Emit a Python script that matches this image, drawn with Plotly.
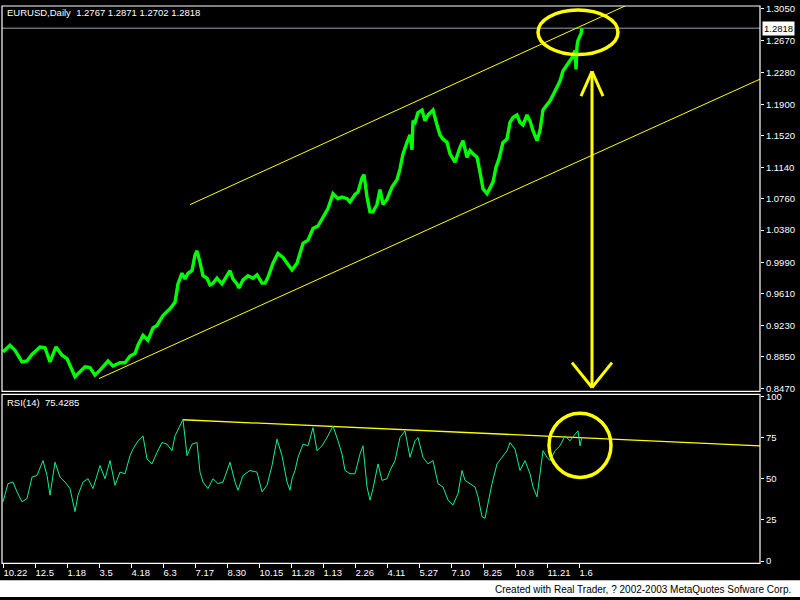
import plotly.graph_objects as go

# ---------------- data ----------------
symbol_header = "EURUSD,Daily  1.2767 1.2871 1.2702 1.2818"
last_close = 1.2818
rsi_header = "RSI(14)  75.4285"
footer_text = "Created with Real Trader, ? 2002-2003 MetaQuotes Sofware Corp."

# bar index (trading days from 2001-10-22) and approximate price
price_bar = [0, 7, 12, 19, 24, 29, 37, 42, 47, 53, 59, 64, 72, 77, 82, 87, 92, 97, 102, 105,
             110, 117, 122, 127, 132, 135, 140, 145, 150, 154, 160, 167, 172, 175, 179, 182, 185,
             189, 192, 194, 197, 200, 204, 207, 210, 214, 219, 222, 227, 230, 234, 236, 240, 245,
             250, 254, 259, 262, 265, 270, 275, 280, 284, 289, 294, 297, 300, 305, 310, 315, 320,
             325, 330, 335, 339, 344, 347, 352, 355, 359, 361, 364, 367, 370, 374, 377, 380, 384,
             389, 394, 397, 400, 404, 407, 409, 410, 412, 415, 419, 422, 425, 430, 434, 437, 440,
             444, 447, 452, 457, 460, 464, 467, 470, 474, 477, 480, 484, 487, 490, 493, 496, 500,
             504, 507, 510, 514, 517, 520, 524, 527, 530, 534, 537, 540, 544, 547, 550, 554, 557,
             560, 564, 567, 570, 572, 573, 574, 575, 578, 579]
price_close = [0.891, 0.899, 0.893, 0.879, 0.880, 0.888, 0.897, 0.896, 0.879, 0.897, 0.887, 0.883,
               0.861, 0.867, 0.873, 0.872, 0.863, 0.869, 0.875, 0.880, 0.874, 0.878, 0.878, 0.886,
               0.889, 0.899, 0.911, 0.905, 0.920, 0.923, 0.935, 0.943, 0.951, 0.973, 0.986, 0.979,
               0.986, 0.989, 1.008, 1.013, 0.999, 0.983, 0.980, 0.972, 0.974, 0.980, 0.973, 0.979,
               0.989, 0.979, 0.973, 0.968, 0.978, 0.983, 0.980, 0.984, 0.974, 0.974, 0.981, 0.998,
               1.010, 1.005, 0.998, 0.990, 0.998, 1.010, 1.022, 1.026, 1.040, 1.043, 1.053, 1.064,
               1.082, 1.076, 1.078, 1.076, 1.072, 1.081, 1.084, 1.101, 1.105, 1.078, 1.060, 1.060,
               1.069, 1.087, 1.069, 1.075, 1.090, 1.099, 1.112, 1.130, 1.144, 1.153, 1.135, 1.170,
               1.168, 1.180, 1.183, 1.170, 1.177, 1.183, 1.165, 1.153, 1.148, 1.144, 1.130, 1.120,
               1.138, 1.146, 1.126, 1.134, 1.130, 1.126, 1.108, 1.088, 1.082, 1.090, 1.096, 1.114,
               1.124, 1.144, 1.148, 1.168, 1.174, 1.177, 1.168, 1.165, 1.177, 1.170, 1.158, 1.146,
               1.158, 1.183, 1.189, 1.194, 1.201, 1.210, 1.218, 1.230, 1.237, 1.242, 1.248, 1.255,
               1.232, 1.260, 1.267, 1.275, 1.2818]

rsi_bar = [0, 5, 10, 14, 19, 24, 29, 34, 40, 44, 47, 52, 57, 62, 67, 72, 75, 80, 85, 90, 97, 102,
           107, 112, 117, 122, 127, 130, 135, 140, 144, 149, 154, 159, 164, 169, 172, 177, 180, 184,
           189, 194, 197, 200, 205, 210, 215, 220, 227, 232, 235, 240, 247, 254, 259, 264, 269, 274,
           279, 284, 287, 289, 292, 295, 300, 305, 310, 314, 319, 324, 330, 335, 339, 342, 347, 352,
           357, 360, 364, 367, 370, 375, 379, 384, 387, 392, 397, 402, 407, 412, 415, 420, 425, 430,
           435, 440, 445, 450, 455, 459, 462, 467, 472, 475, 479, 482, 485, 489, 494, 499, 504, 507,
           512, 517, 522, 527, 530, 534, 537, 540, 544, 547, 552, 557, 562, 567, 572, 575, 577, 579]
rsi_value = [36, 47, 48, 42, 36, 38, 51, 52, 61, 52, 40, 60, 51, 48, 44, 30, 40, 48, 50, 44, 58, 50,
             61, 46, 54, 53, 64, 68, 73, 76, 62, 59, 66, 72, 71, 67, 76, 82, 86, 64, 71, 72, 54, 48,
             44, 50, 47, 48, 60, 48, 43, 52, 55, 54, 42, 46, 58, 74, 64, 48, 43, 50, 55, 63, 71, 70,
             81, 67, 70, 75, 82, 73, 65, 55, 53, 53, 65, 70, 45, 37, 44, 59, 49, 50, 55, 61, 75, 79,
             63, 73, 75, 63, 59, 61, 47, 45, 37, 34, 41, 55, 49, 47, 45, 39, 27, 26, 35, 47, 59, 63,
             67, 72, 68, 55, 61, 53, 45, 39, 55, 67, 63, 61, 67, 70, 76, 73, 77, 79, 70, 75.4285]

tick_bar = [0, 32, 64, 96, 128, 160, 192, 224, 256, 288, 320, 352, 384, 416, 448, 480, 512, 544, 576]
tick_label = ["10.22", "12.5", "1.18", "3.5", "4.18", "6.3", "7.17", "8.30", "10.15", "11.28",
              "1.13", "2.26", "4.11", "5.27", "7.10", "8.25", "10.8", "11.21", "1.6"]

price_tick_val = [1.3050, 1.2670, 1.2280, 1.1900, 1.1520, 1.1140, 1.0760, 1.0380, 0.9990,
                  0.9610, 0.9230, 0.8850, 0.8470]
price_tick_text = ["1.3050", "1.2670", "1.2280", "1.1900", "1.1520", "1.1140", "1.0760",
                   "1.0380", "0.9990", "0.9610", "0.9230", "0.8850", "0.8470"]
rsi_tick_val = [0, 25, 50, 75, 100]

# hand-drawn trend lines (bar index, value)
upper_channel_bar = [187, 622]
upper_channel_price = [1.0688, 1.3086]
lower_channel_bar = [96, 757]
lower_channel_price = [0.8588, 1.2203]
rsi_trend_bar = [180, 757]
rsi_trend_value = [85.8, 70.0]

# highlight ellipses / arrow (bar index, value)
price_circle_bar = [535, 615]
price_circle_price = [1.2501, 1.3038]
rsi_circle_bar = [546, 608]
rsi_circle_value = [50.8, 89.8]
arrow_bar = 589
arrow_top_price = 1.2298
arrow_bottom_price = 0.8480

# ---------------- figure ----------------
W, H = 800, 600
X_RANGE = [-1, 757]
Y_RANGE = [0.8433, 1.3086]
R_RANGE = [-1.4, 101.2]
X_DOM = [2 / W, 760 / W]
Y_DOM = [1 - 392 / H, 1 - 2 / H]
R_DOM = [1 - 566 / H, 1 - 395 / H]

YELLOW = "#ffff00"
WHITE = "#ffffff"
FONT = "Liberation Sans"

fig = go.Figure()

fig.add_trace(go.Scatter(x=upper_channel_bar, y=upper_channel_price, mode="lines",
                         line=dict(color=YELLOW, width=1), xaxis="x", yaxis="y",
                         hoverinfo="skip", showlegend=False))
fig.add_trace(go.Scatter(x=lower_channel_bar, y=lower_channel_price, mode="lines",
                         line=dict(color=YELLOW, width=1), xaxis="x", yaxis="y",
                         hoverinfo="skip", showlegend=False))
fig.add_trace(go.Scatter(x=price_bar, y=price_close, mode="lines",
                         line=dict(color="#00ff00", width=3.4), xaxis="x", yaxis="y",
                         showlegend=False))
fig.add_trace(go.Scatter(x=rsi_trend_bar, y=rsi_trend_value, mode="lines",
                         line=dict(color=YELLOW, width=1.3), xaxis="x", yaxis="y2",
                         hoverinfo="skip", showlegend=False))
fig.add_trace(go.Scatter(x=rsi_bar, y=rsi_value, mode="lines",
                         line=dict(color="#10f088", width=1), xaxis="x", yaxis="y2",
                         showlegend=False))

shapes = []
# panel frames
for yref in ("y domain", "y2 domain"):
    shapes.append(dict(type="rect", xref="x domain", yref=yref, x0=0, x1=1, y0=0, y1=1,
                       line=dict(color=WHITE, width=1.2), layer="above"))
# last price level
shapes.append(dict(type="line", xref="x domain", yref="y", x0=0, x1=1,
                   y0=last_close, y1=last_close, line=dict(color="#98a4aa", width=1),
                   layer="below"))
# ellipses
shapes.append(dict(type="circle", xref="x", yref="y",
                   x0=price_circle_bar[0], x1=price_circle_bar[1],
                   y0=price_circle_price[0], y1=price_circle_price[1],
                   line=dict(color=YELLOW, width=3.5)))
shapes.append(dict(type="circle", xref="x", yref="y2",
                   x0=rsi_circle_bar[0], x1=rsi_circle_bar[1],
                   y0=rsi_circle_value[0], y1=rsi_circle_value[1],
                   line=dict(color=YELLOW, width=3.5)))
# double-headed arrow
head_dy = 0.030
shapes.append(dict(type="line", xref="x", yref="y", x0=arrow_bar, x1=arrow_bar,
                   y0=arrow_top_price, y1=arrow_bottom_price,
                   line=dict(color=YELLOW, width=3)))
for sx in (-1, 1):
    shapes.append(dict(type="line", xref="x", yref="y", x0=arrow_bar, y0=arrow_top_price,
                       x1=arrow_bar + sx * 11, y1=arrow_top_price - head_dy,
                       line=dict(color=YELLOW, width=3)))
    shapes.append(dict(type="line", xref="x", yref="y", x0=arrow_bar, y0=arrow_bottom_price,
                       x1=arrow_bar + sx * 20, y1=arrow_bottom_price + head_dy,
                       line=dict(color=YELLOW, width=3)))
# footer strip
shapes.append(dict(type="rect", xref="paper", yref="paper", x0=0, x1=1, y0=0, y1=17 / H,
                   fillcolor=WHITE, line=dict(width=0), layer="below"))

annotations = [
    dict(text=symbol_header, xref="paper", yref="paper", x=5 / W, y=1 - 9 / H,
         xanchor="left", yanchor="middle", showarrow=False,
         font=dict(family=FONT, size=9.5, color=WHITE)),
    dict(text=rsi_header, xref="paper", yref="paper", x=5 / W, y=1 - 403.5 / H,
         xanchor="left", yanchor="middle", showarrow=False,
         font=dict(family=FONT, size=9.5, color=WHITE)),
    dict(text=f"{last_close:.4f}", xref="paper", yref="y", x=762 / W, y=last_close,
         xanchor="left", yanchor="middle", showarrow=False, bgcolor=WHITE, borderpad=1,
         font=dict(family=FONT, size=9.5, color="#000000")),
    dict(text=footer_text, xref="paper", yref="paper", x=793 / W, y=8 / H,
         xanchor="right", yanchor="middle", showarrow=False,
         font=dict(family=FONT, size=10, color="#000000")),
]

axis_font = dict(family=FONT, size=9.5, color=WHITE)
fig.update_layout(
    width=W, height=H, margin=dict(l=0, r=0, t=0, b=0),
    paper_bgcolor="#000000", plot_bgcolor="#000000",
    showlegend=False,
    xaxis=dict(domain=X_DOM, range=X_RANGE, anchor="y2", tickvals=tick_bar, ticktext=tick_label,
               ticks="outside", ticklen=4, tickcolor=WHITE, ticklabelposition="outside right",
               tickangle=0, tickfont=axis_font, showgrid=False, zeroline=False, showline=False),
    yaxis=dict(domain=Y_DOM, range=Y_RANGE, anchor="x", side="right", tickvals=price_tick_val,
               ticktext=price_tick_text, ticks="outside", ticklen=3, tickcolor=WHITE,
               tickfont=axis_font, showgrid=False, zeroline=False, showline=False),
    yaxis2=dict(domain=R_DOM, range=R_RANGE, anchor="x", side="right", tickvals=rsi_tick_val,
                ticks="outside", ticklen=3, tickcolor=WHITE, tickfont=axis_font,
                showgrid=False, zeroline=False, showline=False),
    shapes=shapes, annotations=annotations,
)

fig.write_html("out.html", config={"displayModeBar": False},
               post_script="document.body.style.margin='0';document.body.style.overflow='hidden';")
